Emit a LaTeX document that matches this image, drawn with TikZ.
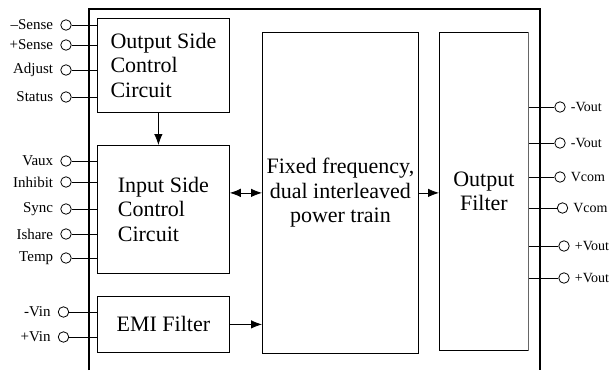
\documentclass[tikz,border=0pt]{standalone}
\usepackage{fontspec}
\setmainfont{Liberation Serif}
\usetikzlibrary{positioning,arrows.meta}
\tikzset{
  blk/.style={draw, line width=0.8pt, align=center, inner sep=0pt,
    font=\fontsize{22}{24.5}\selectfont},
  frame/.style={line width=1.8pt},
  pin/.style={draw, circle, line width=0.8pt, minimum size=10.5pt, inner sep=0pt},
  pinlabel/.style={font=\fontsize{15}{17}\selectfont, inner sep=1pt},
  outlabel/.style={font=\fontsize{14}{16}\selectfont, inner sep=1pt},
  wire/.style={line width=0.8pt},
  arr/.style={wire, -{Latex[length=11pt,width=8.5pt]}},
  darr/.style={wire, {Latex[length=11pt,width=8.5pt]}-{Latex[length=11pt,width=8.5pt]}},
}

\begin{document}
\begin{tikzpicture}[x=1pt,y=-1pt]
\useasboundingbox (0,0) rectangle (612,370);

% ===== module frame (open at the bottom) =====
\draw[frame] (89,370) -- (89,9) -- (540,9) -- (540,370);

% ===== blocks =====
\node[blk, anchor=north west, minimum width=132pt, minimum height=94pt, align=left]
  (osc) at (97,18) {Output Side\\Control\\Circuit};
\node[blk, anchor=north west, minimum width=132pt, minimum height=128pt, align=left]
  (isc) at (97,145) {Input Side\\Control\\Circuit};
\node[blk, anchor=north west, minimum width=132pt, minimum height=56pt]
  (emi) at (97,296) {EMI Filter};
\node[blk, anchor=north west, minimum width=156pt, minimum height=321pt]
  (pt) at (262,32) {Fixed frequency,\\dual interleaved\\power train};
\node[blk, anchor=north west, minimum width=89pt, minimum height=318pt]
  (of) at (439,32) {Output\\Filter};
\draw[line width=1.3pt, black!60] (of.north east) -- (of.south east);

% ===== signal flow =====
\draw[arr] ([xshift=-5pt]osc.south) -- ([xshift=-5pt]isc.north);
\draw[darr] (isc.east |- pt.west) -- (pt.west);
\draw[arr] (emi.east) -- (emi.east -| pt.west);
\draw[arr] (pt.east) -- (pt.east -| of.west);

% ===== input side pins =====
\foreach \n/\y/\t in {msense/25/--Sense, psense/45/+Sense, adj/70/Adjust, stat/97/Status}
  { \node[pin] (\n) at (66,\y) {};
    \node[pinlabel, left=6pt of \n] {\t};
    \draw[wire] (\n.east) -- (\n.east -| osc.west); }

\foreach \n/\y/\t in {vaux/161/Vaux, inh/182/Inhibit, sync/209/Sync, ishare/234/Ishare, temp/258/Temp}
  { \node[pin] (\n) at (66,\y) {};
    \node[pinlabel, left=6pt of \n] {\t};
    \draw[wire] (\n.east) -- (\n.east -| isc.west); }

\foreach \n/\y/\t in {mvin/312/-Vin, pvin/337/+Vin}
  { \node[pin] (\n) at (63.5,\y) {};
    \node[pinlabel, left=6pt of \n] {\t};
    \draw[wire] (\n.east) -- (\n.east -| emi.west); }

% ===== output pins =====
\foreach \n/\x/\y/\t in {vo1/560/107/-Vout, vo2/560/143/-Vout, vc1/560/177/Vcom,
                         vc2/562.5/208/Vcom, vo3/564/246/+Vout, vo4/564/278/+Vout}
  { \node[pin] (\n) at (\x,\y) {};
    \node[outlabel, right=4pt of \n] {\t};
    \draw[wire] (of.east |- \n) -- (\n.west); }

\end{tikzpicture}
\end{document}
